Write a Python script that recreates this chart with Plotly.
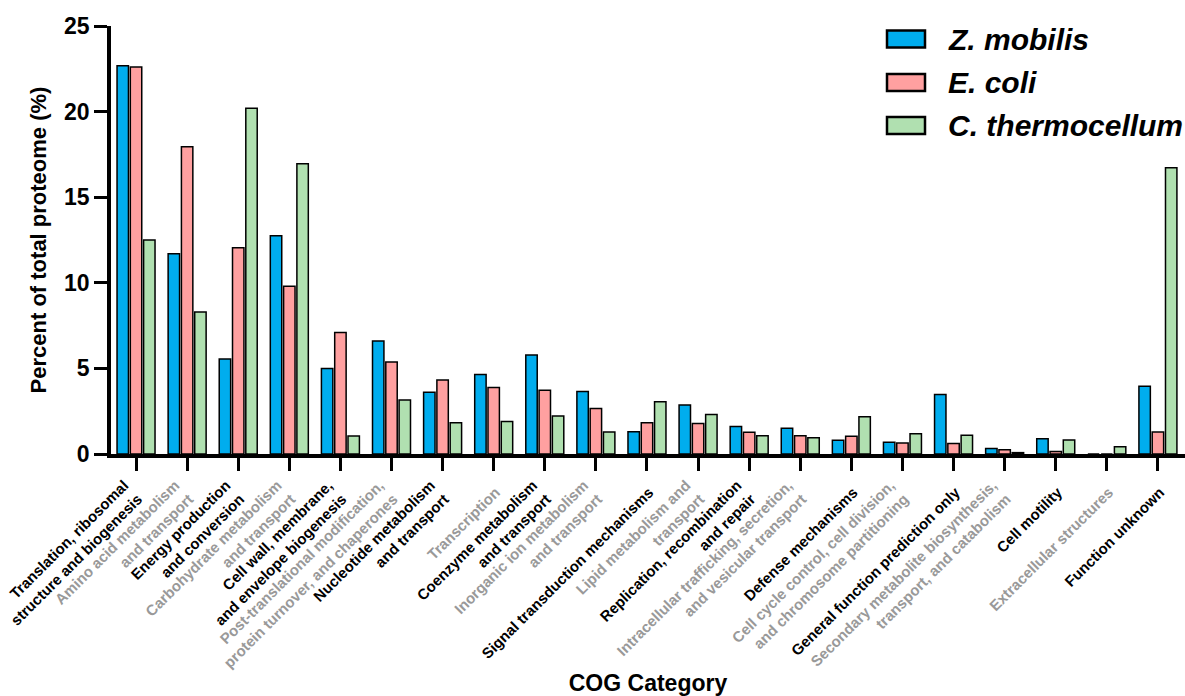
import plotly.graph_objects as go

# COG functional categories (x axis)
categories = [
    "Translation, ribosomal structure and biogenesis",
    "Amino acid metabolism and transport",
    "Energy production and conversion",
    "Carbohydrate metabolism and transport",
    "Cell wall, membrane, and envelope biogenesis",
    "Post-translational modification, protein turnover, and chaperones",
    "Nucleotide metabolism and transport",
    "Transcription",
    "Coenzyme metabolism and transport",
    "Inorganic ion metabolism and transport",
    "Signal transduction mechanisms",
    "Lipid metabolism and transport",
    "Replication, recombination and repair",
    "Intracellular trafficking, secretion, and vesicular transport",
    "Defense mechanisms",
    "Cell cycle control, cell division, and chromosome partitioning",
    "General function prediction only",
    "Secondary metabolite biosynthesis, transport, and catabolism",
    "Cell motility",
    "Extracellular structures",
    "Function unknown",
]

# Tick labels as they are wrapped under the axis
tick_labels = [
    "Translation, ribosomal<br>structure and biogenesis",
    "Amino acid metabolism<br>and transport",
    "Energy production<br>and conversion",
    "Carbohydrate metabolism<br>and transport",
    "Cell wall, membrane,<br>and envelope biogenesis",
    "Post-translational modification,<br>protein turnover, and chaperones",
    "Nucleotide metabolism<br>and transport",
    "Transcription",
    "Coenzyme metabolism<br>and transport",
    "Inorganic ion metabolism<br>and transport",
    "Signal transduction mechanisms",
    "Lipid metabolism and<br>transport",
    "Replication, recombination<br>and repair",
    "Intracellular trafficking, secretion,<br>and vesicular transport",
    "Defense mechanisms",
    "Cell cycle control, cell division,<br>and chromosome partitioning",
    "General function prediction only",
    "Secondary metabolite biosynthesis,<br>transport, and catabolism",
    "Cell motility",
    "Extracellular structures",
    "Function unknown",
]

# Percent of total proteome per organism
z_mobilis = [22.68, 11.7, 5.55, 12.75, 5.0, 6.6, 3.6, 4.65, 5.78, 3.65, 1.3,
             2.86, 1.6, 1.5, 0.8, 0.68, 3.48, 0.32, 0.89, 0.0, 3.96]
e_coli = [22.6, 17.95, 12.05, 9.8, 7.1, 5.38, 4.32, 3.88, 3.72, 2.66, 1.83,
          1.78, 1.27, 1.07, 1.03, 0.64, 0.62, 0.25, 0.14, 0.0, 1.28]
c_thermocellum = [12.5, 8.3, 20.2, 16.95, 1.05, 3.15, 1.82, 1.9, 2.22, 1.28, 3.05,
                  2.3, 1.06, 0.95, 2.17, 1.18, 1.1, 0.08, 0.82, 0.42, 16.72]

series = [
    ("Z. mobilis", z_mobilis, "#00ADEE"),
    ("E. coli", e_coli, "#FFA0A0"),
    ("C. thermocellum", c_thermocellum, "#B0E0B0"),
]

FONT = "Liberation Sans, Arial, sans-serif"
W, H = 1185, 696
M_L, M_R, M_T, M_B = 111, 0, 26, 242
X_RANGE = [-0.49, 20.53]

# Category positions along the x axis
x_pos = list(range(len(categories)))

fig = go.Figure()
for name, vals, color in series:
    fig.add_trace(go.Bar(
        name=name, x=x_pos, y=vals, customdata=categories,
        hovertemplate="%{customdata}<br>" + name + ": %{y}%<extra></extra>",
        marker=dict(color=color, line=dict(color="#000000", width=1.5)),
        showlegend=False,
    ))

# Carrier for the overlay axis that holds the one-line category labels (draws nothing)
fig.add_trace(go.Scatter(x=x_pos, y=z_mobilis, xaxis="x2", mode="none",
                         hoverinfo="skip", showlegend=False))

# Alternate black / grey tick label colours
styled_ticks = [
    lbl if i % 2 == 0 else f'<span style="color:#999999">{lbl}</span>'
    for i, lbl in enumerate(tick_labels)
]
# Wrapped (two-line) labels go on the main axis, one-line labels on the overlay axis
multi_idx = [i for i, t in enumerate(tick_labels) if "<br>" in t]
single_idx = [i for i, t in enumerate(tick_labels) if "<br>" not in t]

fig.update_layout(
    width=W, height=H,
    margin=dict(l=M_L, r=M_R, t=M_T, b=M_B, autoexpand=False),
    paper_bgcolor="white", plot_bgcolor="white",
    barmode="group", bargap=0.22, bargroupgap=0.14,
    font=dict(family=FONT, color="black"),
)

tick_font = dict(size=15, weight="bold", family=FONT, color="black")

fig.update_layout(
    xaxis=dict(
        tickmode="array", tickvals=[x_pos[i] for i in multi_idx],
        ticktext=[styled_ticks[i] for i in multi_idx],
        tickangle=-45, tickfont=tick_font, ticklabelshift=-12,
        ticklabeloverflow="allow",
        ticks="outside", ticklen=13, tickwidth=3, tickcolor="black",
        showline=True, linecolor="black", linewidth=3.5,
        showgrid=False, zeroline=False, automargin=False,
        range=X_RANGE,
        title=dict(text="COG Category", font=dict(size=23, weight="bold", family=FONT), standoff=8),
    ),
    xaxis2=dict(
        overlaying="x", anchor="y", side="bottom",
        tickmode="array", tickvals=[x_pos[i] for i in single_idx],
        ticktext=[styled_ticks[i] for i in single_idx],
        tickangle=-45, tickfont=tick_font, ticklabelshift=2, ticklabelstandoff=7,
        ticklabeloverflow="allow",
        ticks="outside", ticklen=13, tickwidth=3, tickcolor="black",
        showline=True, linecolor="rgba(0,0,0,0)", linewidth=3.5,
        showgrid=False, zeroline=False, automargin=False,
        range=X_RANGE,
    ),
    yaxis=dict(
        range=[0, 25], tickvals=[0, 5, 10, 15, 20, 25],
        tickfont=dict(size=23, weight="bold", family=FONT),
        ticks="outside", ticklen=13, tickwidth=3, tickcolor="black",
        showline=True, linecolor="black", linewidth=3.5,
        showgrid=False, zeroline=False, automargin=False,
        title=dict(text="Percent of total proteome (%)", font=dict(size=22, weight="bold", family=FONT), standoff=12),
    ),
)

# Legend: swatches and italic species names in the upper right
plot_w = W - M_L - M_R
plot_h = H - M_T - M_B
def px_x(x):
    return (x - M_L) / plot_w
def px_y(y):
    return (H - M_B - y) / plot_h

row_centers = [39, 82.5, 125.5]
for (name, _, color), yc in zip(series, row_centers):
    fig.add_shape(type="rect", xref="paper", yref="paper",
                  x0=px_x(887), x1=px_x(925), y0=px_y(yc + 8.5), y1=px_y(yc - 8.5),
                  fillcolor=color, line=dict(color="black", width=2.5))
    fig.add_annotation(xref="paper", yref="paper", x=px_x(946), y=px_y(yc),
                       text=name, showarrow=False, xanchor="left", yanchor="middle",
                       font=dict(size=30, weight="bold", style="italic", family=FONT, color="black"))

fig.write_html("out.html")
